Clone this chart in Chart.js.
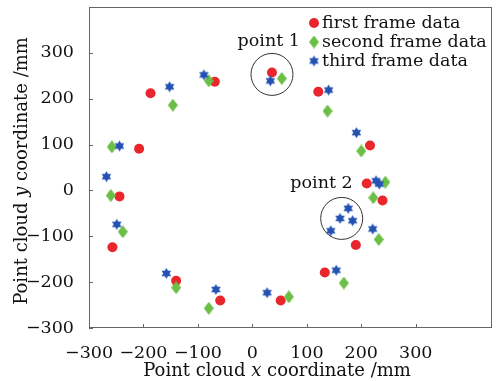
<!DOCTYPE html>
<html>
<head>
<meta charset="utf-8">
<script src="https://cdn.jsdelivr.net/npm/chart.js@4.4.1/dist/chart.umd.min.js"></script>
<style>
    html, body { margin: 0; padding: 0; background: #fff; }
    #wrap { width: 497px; height: 381px; }
</style>
</head>
<body>
<div id="wrap"><canvas id="chart" width="497" height="381"></canvas></div>
<script>
// ---- data (mm) ----
const firstX  = [36, 121, 216, 210, 239, 190, 133, 52, -59, -140, -257, -244, -208, -187, -69];
const firstY  = [257, 215, 98, 15, -22, -119, -179, -240, -240, -197, -124, -13, 91, 212, 237];

const secondX = [54, 138, 200, 244, 222, 232, 168, 67, -80, -140, -238, -260, -258, -146, -80];
const secondY = [244, 173, 86, 18, -16, -107, -202, -232, -257, -212, -90, -11, 95, 186, 239];

const thirdX  = [33, 140, 191, 227, 233, 176, 161, 184, 144, 221, 154, 27, -67, -158, -249, -268, -244, -152, -89];
const thirdY  = [239, 219, 126, 21, 14, -39, -61, -66, -88, -84, -174, -223, -216, -181, -74, 30, 97, 226, 252];

const seriesNames = ["first frame data", "second frame data", "third frame data"];
const xTicks = [-300, -200, -100, 0, 100, 200, 300];
const yTicks = [-300, -200, -100, 0, 100, 200, 300];

// circled points: [label, label x, label y, circle x, circle y]
const notes = [
    ["point 1", 30, 324, 36, 253],
    ["point 2", 127, 16, 164, -61]
];

const RED = "#e8262b";
const GREEN = "#6bbf47";
const BLUE = "#2452b3";
const INK = "#111";
const FONT = "'DejaVu Serif', serif";

function toPoints(xs, ys) {
    return xs.map((x, i) => ({ x, y: ys[i] }));
}

function makeStar(color, r) {
    const c = document.createElement("canvas");
    const s = Math.ceil(r * 2) + 2;
    c.width = c.height = s;
    const g = c.getContext("2d");
    g.fillStyle = color;
    g.beginPath();
    for (let i = 0; i < 12; i++) {
        const a = -Math.PI / 2 + i * Math.PI / 6;
        const rr = i % 2 === 0 ? r : r * 0.58;
        g.lineTo(s / 2 + rr * Math.cos(a), s / 2 + rr * Math.sin(a));
    }
    g.closePath();
    g.fill();
    return c;
}

function makeDiamond(color, w, h) {
    const c = document.createElement("canvas");
    c.width = w;
    c.height = h;
    const g = c.getContext("2d");
    g.fillStyle = color;
    g.beginPath();
    g.moveTo(w / 2, 0);
    g.lineTo(w, h / 2);
    g.lineTo(w / 2, h);
    g.lineTo(0, h / 2);
    g.closePath();
    g.fill();
    return c;
}

const starImg = makeStar(BLUE, 5.5);
const diamondImg = makeDiamond(GREEN, 10, 13);

const fmt = (v) => (v < 0 ? "\u2212" + Math.abs(v) : String(v));

// mixed roman / italic text, centred on (0,0) of current transform
function drawMixed(ctx, parts, size) {
    const widths = parts.map(([t, it]) => {
        ctx.font = (it ? "italic " : "") + size + "px " + FONT;
        return ctx.measureText(t).width;
    });
    let x = -widths.reduce((a, b) => a + b, 0) / 2;
    parts.forEach(([t, it], i) => {
        ctx.font = (it ? "italic " : "") + size + "px " + FONT;
        ctx.fillText(t, x, 0);
        x += widths[i];
    });
}

const decorations = {
    id: "decorations",
    afterDraw(chart) {
        const { ctx, chartArea: a, scales } = chart;
        const xs = scales.x;
        const ys = scales.y;
        ctx.save();

        // frame and inward ticks
        ctx.strokeStyle = "#666";
        ctx.lineWidth = 1;
        ctx.strokeRect(a.left + 0.5, a.top + 0.5, a.right - a.left - 1, a.bottom - a.top - 1);
        ctx.beginPath();
        xTicks.forEach((v) => {
            const px = Math.round(xs.getPixelForValue(v)) + 0.5;
            ctx.moveTo(px, a.bottom);
            ctx.lineTo(px, a.bottom - 4);
        });
        yTicks.forEach((v) => {
            const py = Math.round(ys.getPixelForValue(v)) + 0.5;
            ctx.moveTo(a.left, py);
            ctx.lineTo(a.left + 4, py);
        });
        ctx.stroke();

        // axis titles
        ctx.fillStyle = INK;
        ctx.textAlign = "left";
        ctx.textBaseline = "middle";
        ctx.save();
        ctx.translate(277, 371);
        drawMixed(ctx, [["Point cloud ", false], ["x", true], [" coordinate /mm", false]], 18);
        ctx.restore();
        ctx.save();
        ctx.translate(22, 171);
        ctx.rotate(-Math.PI / 2);
        drawMixed(ctx, [["Point cloud ", false], ["y", true], [" coordinate /mm", false]], 18);
        ctx.restore();

        // circled points
        ctx.font = "17.5px " + FONT;
        ctx.textAlign = "center";
        notes.forEach(([label, lx, ly, cx, cy]) => {
            ctx.fillText(label, xs.getPixelForValue(lx), ys.getPixelForValue(ly));
            ctx.beginPath();
            ctx.arc(xs.getPixelForValue(cx), ys.getPixelForValue(cy), 21, 0, Math.PI * 2);
            ctx.strokeStyle = "#333";
            ctx.stroke();
        });

        // legend
        const mx = a.right - 178;
        const rows = [a.top + 16, a.top + 35, a.top + 54];
        ctx.textAlign = "left";
        ctx.fillStyle = RED;
        ctx.beginPath();
        ctx.arc(mx, rows[0], 5, 0, Math.PI * 2);
        ctx.fill();
        ctx.drawImage(diamondImg, mx - 5, rows[1] - 6.5);
        ctx.drawImage(starImg, mx - starImg.width / 2, rows[2] - starImg.height / 2);
        ctx.fillStyle = INK;
        seriesNames.forEach((name, i) => ctx.fillText(name, mx + 8, rows[i]));

        ctx.restore();
    }
};

new Chart(document.getElementById("chart"), {
    type: "scatter",
    data: {
        datasets: [
            {
                label: seriesNames[0],
                data: toPoints(firstX, firstY),
                pointStyle: "circle",
                pointRadius: 5,
                backgroundColor: RED,
                borderColor: RED,
                borderWidth: 0,
                order: 3
            },
            {
                label: seriesNames[1],
                data: toPoints(secondX, secondY),
                pointStyle: diamondImg,
                order: 2
            },
            {
                label: seriesNames[2],
                data: toPoints(thirdX, thirdY),
                pointStyle: starImg,
                order: 1
            }
        ]
    },
    options: {
        responsive: false,
        animation: false,
        layout: { padding: { top: 7, right: 4, left: 0, bottom: 0 } },
        plugins: {
            legend: { display: false },
            tooltip: { enabled: false }
        },
        scales: {
            x: {
                type: "linear",
                min: -300,
                max: 440,
                afterBuildTicks: (s) => { s.ticks = xTicks.map((value) => ({ value })); },
                afterFit: (s) => {
                    s.height = 53;
                    s.paddingLeft = 0;
                    s.paddingRight = 0;
                },
                grid: { display: false },
                border: { display: false },
                ticks: {
                    padding: 7,
                    color: INK,
                    font: { family: FONT, size: 17.5 },
                    maxRotation: 0,
                    callback: (v) => fmt(v)
                }
            },
            y: {
                type: "linear",
                min: -300,
                max: 400,
                afterBuildTicks: (s) => { s.ticks = yTicks.map((value) => ({ value })); },
                afterFit: (s) => {
                    s.width = 89;
                    s.paddingTop = 0;
                    s.paddingBottom = 0;
                },
                grid: { display: false },
                border: { display: false },
                ticks: {
                    padding: 7,
                    color: INK,
                    font: { family: FONT, size: 17.5 },
                    callback: (v) => fmt(v)
                }
            }
        }
    },
    plugins: [decorations]
});
</script>
</body>
</html>
